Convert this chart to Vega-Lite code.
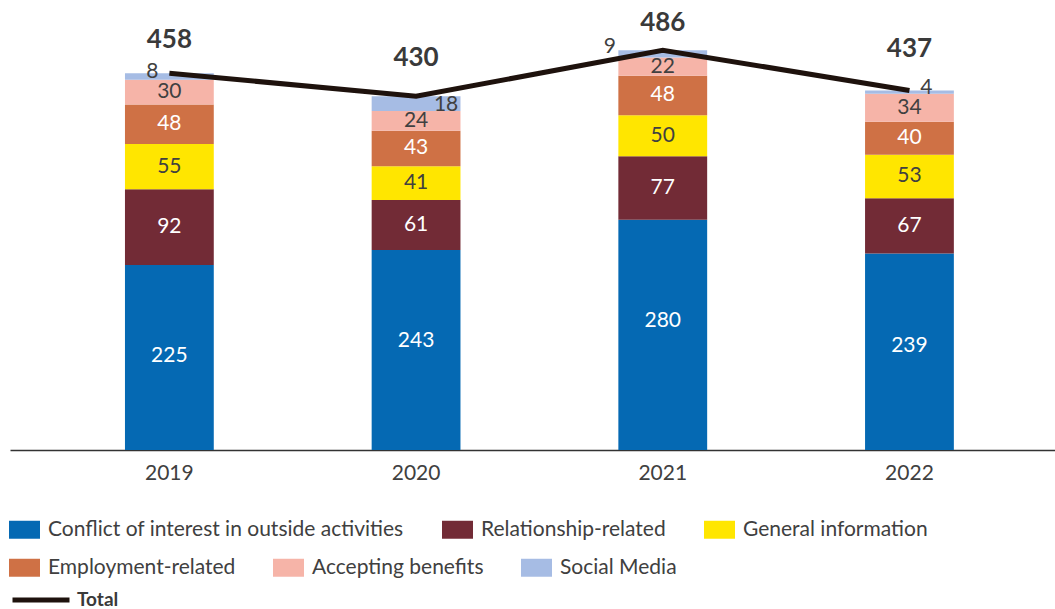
{
  "$schema": "https://vega.github.io/schema/vega-lite/v6.json",
  "width": 1045,
  "height": 450,
  "autosize": {"type": "none"},
  "padding": {"left": 10, "top": 0, "right": 0, "bottom": 159},
  "background": "white",
  "config": {
    "font": "Lato",
    "view": {"stroke": null},
    "text": {"font": "Lato"}
  },
  "datasets": {
    "segments": [
      {"year": "2019", "category": "Conflict of interest in outside activities", "count": 225},
      {"year": "2019", "category": "Relationship-related", "count": 92},
      {"year": "2019", "category": "General information", "count": 55},
      {"year": "2019", "category": "Employment-related", "count": 48},
      {"year": "2019", "category": "Accepting benefits", "count": 30},
      {"year": "2019", "category": "Social Media", "count": 8},
      {"year": "2020", "category": "Conflict of interest in outside activities", "count": 243},
      {"year": "2020", "category": "Relationship-related", "count": 61},
      {"year": "2020", "category": "General information", "count": 41},
      {"year": "2020", "category": "Employment-related", "count": 43},
      {"year": "2020", "category": "Accepting benefits", "count": 24},
      {"year": "2020", "category": "Social Media", "count": 18},
      {"year": "2021", "category": "Conflict of interest in outside activities", "count": 280},
      {"year": "2021", "category": "Relationship-related", "count": 77},
      {"year": "2021", "category": "General information", "count": 50},
      {"year": "2021", "category": "Employment-related", "count": 48},
      {"year": "2021", "category": "Accepting benefits", "count": 22},
      {"year": "2021", "category": "Social Media", "count": 9},
      {"year": "2022", "category": "Conflict of interest in outside activities", "count": 239},
      {"year": "2022", "category": "Relationship-related", "count": 67},
      {"year": "2022", "category": "General information", "count": 53},
      {"year": "2022", "category": "Employment-related", "count": 40},
      {"year": "2022", "category": "Accepting benefits", "count": 34},
      {"year": "2022", "category": "Social Media", "count": 4}
    ],
    "totals": [
      {"year": "2019", "total": 458},
      {"year": "2020", "total": 430},
      {"year": "2021", "total": 486},
      {"year": "2022", "total": 437}
    ]
  },
  "layer": [
    {
      "data": {"name": "segments"},
      "transform": [
        {"calculate": "indexof(['Conflict of interest in outside activities','Relationship-related','General information','Employment-related','Accepting benefits','Social Media'], datum.category)", "as": "rank"},
        {"stack": "count", "groupby": ["year"], "sort": [{"field": "rank", "order": "ascending"}], "as": ["y0", "y1"]},
        {"calculate": "(datum.y0 + datum.y1) / 2", "as": "mid"}
      ],
      "layer": [
        {
          "transform": [{"filter": "datum.rank < 3"}],
          "mark": {"type": "bar"},
          "encoding": {
            "x": {
              "field": "year",
              "type": "ordinal",
              "scale": {"paddingInner": 0.64, "paddingOuter": 0.438, "align": 0.532},
              "axis": {
                "title": null,
                "labelAngle": 0,
                "labelFontSize": 21,
                "labelColor": "#404040",
                "labelPadding": 12,
                "ticks": false,
                "domainColor": "#333333",
                "domainWidth": 1.5,
                "grid": false
              }
            },
            "y": {
              "field": "y0",
              "type": "quantitative",
              "scale": {"domain": [0, 547], "nice": false, "zero": true},
              "axis": null
            },
            "y2": {"field": "y1"},
            "fill": {
              "field": "category",
              "type": "nominal",
              "scale": {
                "domain": ["Conflict of interest in outside activities", "Relationship-related", "General information"],
                "range": ["#0569b3", "#722b36", "#ffe600"]
              },
              "legend": {
                "title": null,
                "orient": "none",
                "legendX": -1,
                "legendY": 514,
                "direction": "horizontal",
                "columnPadding": 38,
                "padding": 0,
                "symbolType": "M-1,-0.58H1V0.58H-1Z",
                "symbolSize": 961,
                "symbolStrokeWidth": 0,
                "symbolOpacity": 1,
                "labelFontSize": 21,
                "labelColor": "#404040",
                "labelOffset": 8,
                "labelLimit": 600
              }
            }
          }
        },
        {
          "transform": [{"filter": "datum.rank >= 3"}],
          "mark": {"type": "bar"},
          "encoding": {
            "x": {"field": "year", "type": "ordinal"},
            "y": {"field": "y0", "type": "quantitative"},
            "y2": {"field": "y1"},
            "color": {
              "field": "category",
              "type": "nominal",
              "scale": {
                "domain": ["Employment-related", "Accepting benefits", "Social Media"],
                "range": ["#cf7145", "#f6b4a8", "#a6bce4"]
              },
              "legend": {
                "title": null,
                "orient": "none",
                "legendX": -1,
                "legendY": 552,
                "direction": "horizontal",
                "columnPadding": 37,
                "padding": 0,
                "symbolType": "M-1,-0.58H1V0.58H-1Z",
                "symbolSize": 961,
                "symbolStrokeWidth": 0,
                "symbolOpacity": 1,
                "labelFontSize": 21,
                "labelColor": "#404040",
                "labelOffset": 8,
                "labelLimit": 600
              }
            }
          }
        },
        {
          "transform": [{"filter": "datum.rank >= 1 && datum.rank <= 4"}],
          "mark": {"type": "text", "fontSize": 21, "align": "center", "baseline": "middle"},
          "encoding": {
            "x": {"field": "year", "type": "ordinal"},
            "y": {"field": "mid", "type": "quantitative"},
            "text": {"field": "count", "type": "quantitative"},
            "color": {
              "condition": {"test": "datum.category === 'General information' || datum.category === 'Accepting benefits'", "value": "#404040"},
              "value": "#ffffff"
            }
          }
        },
        {
          "transform": [{"filter": "datum.rank === 0 && datum.year === '2019'"}],
          "mark": {"type": "text", "fontSize": 21, "align": "center", "baseline": "middle", "color": "#ffffff", "dy": -1.5},
          "encoding": {
            "x": {"field": "year", "type": "ordinal"},
            "y": {"field": "mid", "type": "quantitative"},
            "text": {"field": "count", "type": "quantitative"}
          }
        },
        {
          "transform": [{"filter": "datum.rank === 0 && datum.year === '2020'"}],
          "mark": {"type": "text", "fontSize": 21, "align": "center", "baseline": "middle", "color": "#ffffff", "dy": -9.5},
          "encoding": {
            "x": {"field": "year", "type": "ordinal"},
            "y": {"field": "mid", "type": "quantitative"},
            "text": {"field": "count", "type": "quantitative"}
          }
        },
        {
          "transform": [{"filter": "datum.rank === 0 && datum.year === '2021'"}],
          "mark": {"type": "text", "fontSize": 21, "align": "center", "baseline": "middle", "color": "#ffffff", "dy": -13.5},
          "encoding": {
            "x": {"field": "year", "type": "ordinal"},
            "y": {"field": "mid", "type": "quantitative"},
            "text": {"field": "count", "type": "quantitative"}
          }
        },
        {
          "transform": [{"filter": "datum.rank === 0 && datum.year === '2022'"}],
          "mark": {"type": "text", "fontSize": 21, "align": "center", "baseline": "middle", "color": "#ffffff", "dy": -6},
          "encoding": {
            "x": {"field": "year", "type": "ordinal"},
            "y": {"field": "mid", "type": "quantitative"},
            "text": {"field": "count", "type": "quantitative"}
          }
        },
        {
          "transform": [{"filter": "datum.rank === 5 && datum.year === '2019'"}],
          "mark": {"type": "text", "fontSize": 21, "align": "center", "baseline": "middle", "color": "#404040", "dx": -17, "dy": -4.5},
          "encoding": {
            "x": {"field": "year", "type": "ordinal"},
            "y": {"field": "mid", "type": "quantitative"},
            "text": {"field": "count", "type": "quantitative"}
          }
        },
        {
          "transform": [{"filter": "datum.rank === 5 && datum.year === '2020'"}],
          "mark": {"type": "text", "fontSize": 21, "align": "center", "baseline": "middle", "color": "#404040", "dx": 30, "dy": 1},
          "encoding": {
            "x": {"field": "year", "type": "ordinal"},
            "y": {"field": "mid", "type": "quantitative"},
            "text": {"field": "count", "type": "quantitative"}
          }
        },
        {
          "transform": [{"filter": "datum.rank === 5 && datum.year === '2021'"}],
          "mark": {"type": "text", "fontSize": 21, "align": "center", "baseline": "middle", "color": "#404040", "dx": -53, "dy": -6.5},
          "encoding": {
            "x": {"field": "year", "type": "ordinal"},
            "y": {"field": "mid", "type": "quantitative"},
            "text": {"field": "count", "type": "quantitative"}
          }
        },
        {
          "transform": [{"filter": "datum.rank === 5 && datum.year === '2022'"}],
          "mark": {"type": "text", "fontSize": 21, "align": "center", "baseline": "middle", "color": "#404040", "dx": 17, "dy": -4},
          "encoding": {
            "x": {"field": "year", "type": "ordinal"},
            "y": {"field": "mid", "type": "quantitative"},
            "text": {"field": "count", "type": "quantitative"}
          }
        }
      ]
    },
    {
      "data": {"name": "totals"},
      "layer": [
        {
          "mark": {"type": "line", "strokeWidth": 5, "strokeJoin": "miter", "strokeCap": "butt"},
          "encoding": {
            "x": {"field": "year", "type": "ordinal"},
            "y": {"field": "total", "type": "quantitative"},
            "stroke": {
              "datum": "Total",
              "type": "nominal",
              "scale": {"domain": ["Total"], "range": ["#1e120d"]},
              "legend": {
                "title": null,
                "orient": "none",
                "legendX": 0,
                "legendY": 569,
                "padding": 0,
                "symbolType": "stroke",
                "symbolSize": 3249,
                "symbolStrokeWidth": 5,
                "labelFontSize": 19,
                "labelFontWeight": "bold",
                "labelColor": "#3a3a3a",
                "labelOffset": 5
              }
            }
          }
        },
        {
          "transform": [{"filter": "datum.year === '2019'"}],
          "mark": {"type": "text", "fontSize": 26, "fontWeight": "bold", "align": "center", "baseline": "alphabetic", "color": "#3a3a3a", "dy": -25},
          "encoding": {
            "x": {"field": "year", "type": "ordinal"},
            "y": {"field": "total", "type": "quantitative"},
            "text": {"field": "total", "type": "quantitative"}
          }
        },
        {
          "transform": [{"filter": "datum.year === '2020'"}],
          "mark": {"type": "text", "fontSize": 26, "fontWeight": "bold", "align": "center", "baseline": "alphabetic", "color": "#3a3a3a", "dy": -30},
          "encoding": {
            "x": {"field": "year", "type": "ordinal"},
            "y": {"field": "total", "type": "quantitative"},
            "text": {"field": "total", "type": "quantitative"}
          }
        },
        {
          "transform": [{"filter": "datum.year === '2021'"}],
          "mark": {"type": "text", "fontSize": 26, "fontWeight": "bold", "align": "center", "baseline": "alphabetic", "color": "#3a3a3a", "dy": -19},
          "encoding": {
            "x": {"field": "year", "type": "ordinal"},
            "y": {"field": "total", "type": "quantitative"},
            "text": {"field": "total", "type": "quantitative"}
          }
        },
        {
          "transform": [{"filter": "datum.year === '2022'"}],
          "mark": {"type": "text", "fontSize": 26, "fontWeight": "bold", "align": "center", "baseline": "alphabetic", "color": "#3a3a3a", "dy": -33.5},
          "encoding": {
            "x": {"field": "year", "type": "ordinal"},
            "y": {"field": "total", "type": "quantitative"},
            "text": {"field": "total", "type": "quantitative"}
          }
        }
      ]
    }
  ]
}
